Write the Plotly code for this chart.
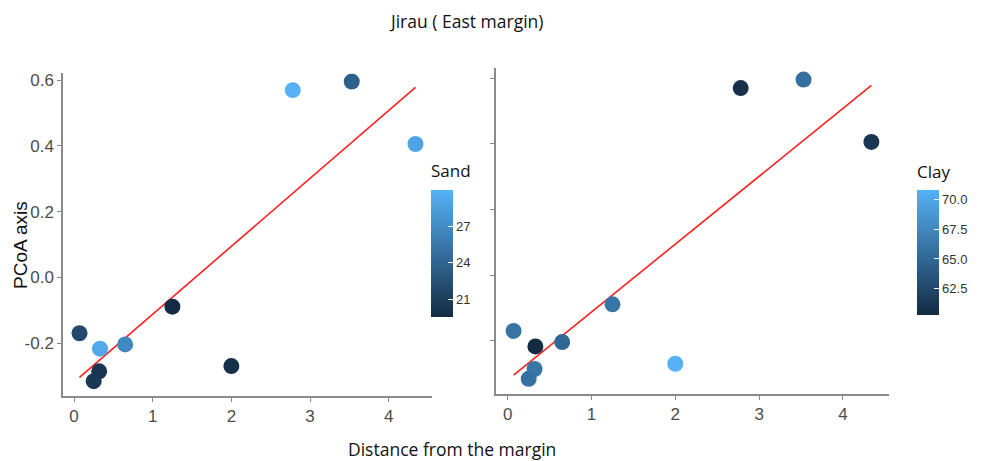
import numpy as np
import plotly.graph_objects as go

# ---- data ----
distance = [0.07, 0.33, 0.65, 0.32, 0.25, 1.25, 2.00, 2.78, 3.53, 4.34]
pcoa = [-0.170, -0.217, -0.204, -0.286, -0.316, -0.089, -0.270, 0.570, 0.596, 0.406]
sand = [21.9, 29.3, 26.8, 20.4, 20.6, 19.6, 20.1, 30.0, 23.7, 29.0]
clay = [66.0, 60.3, 65.0, 66.2, 65.8, 66.2, 70.8, 60.8, 65.6, 61.2]

x_ticks = [0, 1, 2, 3, 4]
y_ticks = [-0.2, 0.0, 0.2, 0.4, 0.6]
y_ticktext = ["-0.2", "0.0", "0.2", "0.4", "0.6"]
sand_ticks = [21, 24, 27]
clay_ticks = [62.5, 65.0, 67.5, 70.0]

title_text = "Jirau ( East margin)"
x_title = "Distance from the margin"
y_title = "PCoA axis"

# ---- styling ----
W, H = 985, 461
scale = [[0, "#132B43"], [1, "#56B1F7"]]
axis_col = "#8a8a8a"
tick_font = dict(family="Liberation Sans, Arial", size=17, color="#4D4D4D")
cb_tick_font = dict(family="Liberation Sans, Arial", size=13, color="#333333")
cb_title_font = dict(family="Open Sans", size=17, color="#111111")

def px_x(p):
    return p / W

def px_y(p):
    return 1 - p / H

# regression line computed from the data
slope, intercept = np.polyfit(distance, pcoa, 1)
xl = np.array([min(distance), max(distance)])
yl = slope * xl + intercept

fig = go.Figure()

# left panel (Sand)
fig.add_trace(go.Scatter(
    x=xl, y=yl, mode="lines", line=dict(color="#ff2020", width=1.6),
    xaxis="x", yaxis="y", showlegend=False, hoverinfo="skip"))
fig.add_trace(go.Scatter(
    x=distance, y=pcoa, mode="markers", xaxis="x", yaxis="y", showlegend=False,
    marker=dict(size=16, color=sand, colorscale=scale, cmin=min(sand), cmax=max(sand),
                line=dict(width=0),
                colorbar=dict(
                    title=dict(text="Sand", side="top", font=cb_title_font),
                    x=px_x(431), xanchor="left", y=px_y(316), yanchor="bottom",
                    len=156 / H, lenmode="fraction", thickness=22, thicknessmode="pixels",
                    xpad=0, ypad=0, outlinewidth=0,
                    tickvals=sand_ticks, ticktext=[str(v) for v in sand_ticks],
                    ticks="inside", ticklen=5, tickcolor="white", tickwidth=1.2,
                    tickfont=cb_tick_font))))

# right panel (Clay)
fig.add_trace(go.Scatter(
    x=xl, y=yl, mode="lines", line=dict(color="#ff2020", width=1.6),
    xaxis="x2", yaxis="y2", showlegend=False, hoverinfo="skip"))
fig.add_trace(go.Scatter(
    x=distance, y=pcoa, mode="markers", xaxis="x2", yaxis="y2", showlegend=False,
    marker=dict(size=16, color=clay, colorscale=scale, cmin=min(clay), cmax=max(clay),
                line=dict(width=0),
                colorbar=dict(
                    title=dict(text="Clay", side="top", font=cb_title_font),
                    x=px_x(917), xanchor="left", y=px_y(314.3), yanchor="bottom",
                    len=154 / H, lenmode="fraction", thickness=22, thicknessmode="pixels",
                    xpad=0, ypad=0, outlinewidth=0,
                    tickvals=clay_ticks, ticktext=[f"{v:.1f}" for v in clay_ticks],
                    ticks="inside", ticklen=5, tickcolor="white", tickwidth=1.2,
                    tickfont=cb_tick_font))))

xr = [-0.14, 4.55]
common_x = dict(range=xr, tickvals=x_ticks, showline=True, linecolor=axis_col, linewidth=1.5,
                ticks="outside", ticklen=4, tickcolor=axis_col, showgrid=False, zeroline=False,
                tickfont=tick_font)
common_y = dict(tickvals=y_ticks, ticktext=y_ticktext, showline=True, linecolor=axis_col,
                linewidth=1.5, ticks="outside", ticklen=4, tickcolor=axis_col,
                showgrid=False, zeroline=False, tickfont=tick_font)

fig.update_layout(
    width=W, height=H,
    margin=dict(l=0, r=0, t=0, b=0),
    paper_bgcolor="white", plot_bgcolor="white",
    xaxis=dict(domain=[px_x(63), px_x(432)], anchor="y", **common_x),
    yaxis=dict(domain=[px_y(395.7), px_y(71.7)], anchor="x", range=[-0.361, 0.621],
               **common_y),
    xaxis2=dict(domain=[px_x(496), px_x(889)], anchor="y2", **common_x),
    yaxis2=dict(domain=[px_y(394), px_y(66.7)], anchor="x2", range=[-0.363, 0.630],
                showticklabels=False, **common_y),
    annotations=[
        dict(text=title_text, x=px_x(466), y=px_y(19), xref="paper", yref="paper",
             xanchor="center", yanchor="middle", showarrow=False,
             font=dict(family="Open Sans", size=17.5, color="#111111")),
        dict(text=x_title, x=px_x(452), y=px_y(449), xref="paper", yref="paper",
             xanchor="center", yanchor="middle", showarrow=False,
             font=dict(family="Open Sans", size=17.5, color="#111111")),
        dict(text=y_title, x=px_x(21), y=px_y(244), xref="paper", yref="paper",
             xanchor="center", yanchor="middle", showarrow=False, textangle=-90,
             font=dict(family="Liberation Sans, Arial", size=19, color="#111111")),
    ],
)

fig.write_html("out.html", config={"displayModeBar": False},
               post_script="document.body.style.margin='0';")
